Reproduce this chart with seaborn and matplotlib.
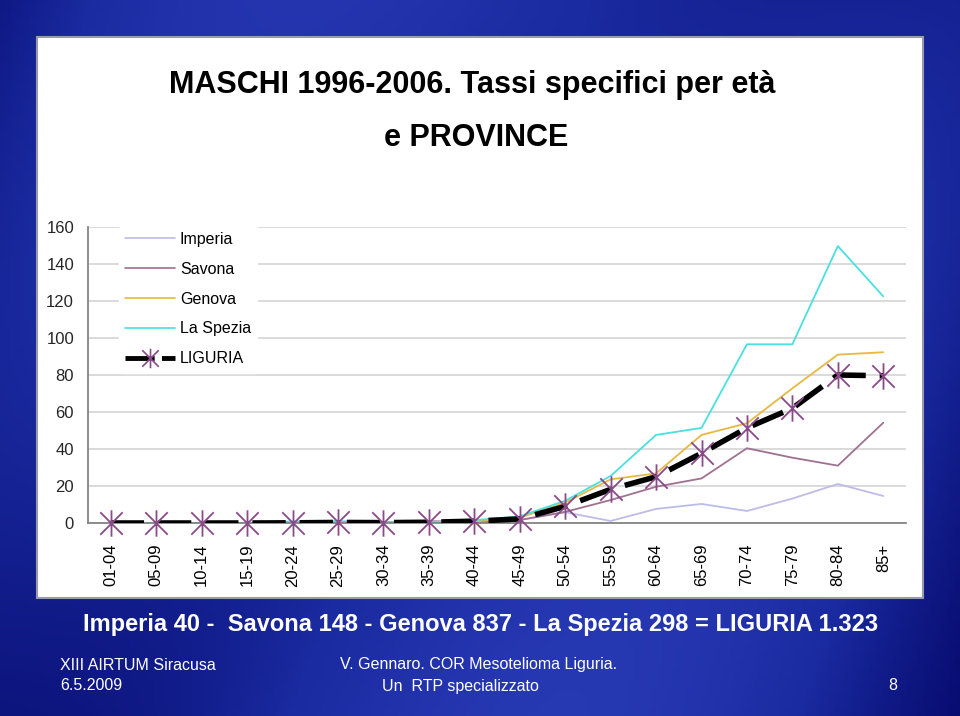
import numpy as np
import pandas as pd
import seaborn as sns
import matplotlib.pyplot as plt
from matplotlib.patches import Rectangle
from matplotlib.lines import Line2D
from matplotlib.path import Path

# classi di eta e tassi
classi = ["01-04", "05-09", "10-14", "15-19", "20-24", "25-29", "30-34", "35-39", "40-44",
          "45-49", "50-54", "55-59", "60-64", "65-69", "70-74", "75-79", "80-84", "85+"]
imperia = [0, 0, 0, 0, 0, 0.3, 0, 0.5, 0.5, 1.6, 5.8, 1.1, 7.6, 10.3, 6.5, 13.2, 21.1, 14.6]
savona = [0, 0, 0, 0, 0, 0, 0.3, 1.0, 0.5, 1.6, 6.0, 12.4, 19.6, 24.1, 40.4, 35.3, 31.0, 54.2]
genova = [0, 0, 0, 0, 0, 0.3, 0.2, 0.3, 0.8, 2.9, 11.0, 23.6, 26.8, 47.6, 53.9, 72.8, 91.0, 92.3]
la_spezia = [0, 0, 0, 0, 0.8, 1.0, 0.3, 0.3, 1.5, 3.6, 12.0, 25.4, 47.6, 51.4, 96.6, 96.6, 149.7, 122.5]
liguria = [0, 0, 0, 0, 0.1, 0.3, 0.2, 0.4, 1.0, 2.2, 9.0, 18.2, 25.0, 37.7, 51.4, 62.0, 80.0, 79.6]

province = ["Imperia", "Savona", "Genova", "La Spezia"]
colori = ["#bcbce8", "#a07090", "#e8b840", "#48e0e0"]

sns.set_theme(style="white")
plt.rcParams["font.family"] = ["Liberation Sans", "DejaVu Sans"]

# marcatore a stella di Excel: X con linea verticale
stella = Path([(0, -1), (0, 1), (-0.85, -0.85), (0.85, 0.85), (-0.85, 0.85), (0.85, -0.85)],
              [Path.MOVETO, Path.LINETO, Path.MOVETO, Path.LINETO, Path.MOVETO, Path.LINETO])

fig = plt.figure(figsize=(9.6, 7.16), dpi=100)

# sfondo blu della diapositiva
bg = fig.add_axes([0, 0, 1, 1], zorder=-10)
yy, xx = np.mgrid[0:1:200j, 0:1:200j]
grad = 0.55 + 0.28 * np.sin(np.pi * xx) + 0.12 * np.sin(7 * (xx + 0.5 * yy))
bg.imshow(grad, cmap=sns.blend_palette(["#05086a", "#1a2aa0", "#2a3cb8"], as_cmap=True),
          aspect="auto", extent=[0, 1, 0, 1], vmin=0.4, vmax=1.0)
bg.set_xlim(0, 1)
bg.set_ylim(0, 1)
bg.axis("off")
bg.add_patch(Rectangle((37 / 960, 1 - 598 / 716), 886 / 960, 561 / 716,
                       facecolor="white", edgecolor="#9a9aa8", lw=1.5))

fig.text(472 / 960, 1 - 85 / 716, "MASCHI 1996-2006. Tassi specifici per età", ha="center", va="center",
         fontsize=22, fontweight="bold", color="black")
fig.text(476 / 960, 1 - 138 / 716, "e PROVINCE", ha="center", va="center",
         fontsize=22, fontweight="bold", color="black")

ax = fig.add_axes([88 / 960, 1 - 523 / 716, 818 / 960, 296 / 716])
ax.set_facecolor("none")

df = pd.DataFrame({"classe": classi, "Imperia": imperia, "Savona": savona,
                   "Genova": genova, "La Spezia": la_spezia, "LIGURIA": liguria})
lungo = df.melt(id_vars="classe", value_vars=province, var_name="provincia", value_name="tasso")

sns.lineplot(data=lungo, x="classe", y="tasso", hue="provincia", palette=colori,
             linewidth=1.3, ax=ax, legend=False, sort=False)
sns.lineplot(data=df, x="classe", y="LIGURIA", color="black", linewidth=4,
             dashes=False, ax=ax, legend=False, sort=False, zorder=5)
ax.lines[-1].set_dashes((6, 2.5))
ax.plot(range(len(classi)), liguria, linestyle="none", marker=stella, markersize=19,
        markeredgecolor="#8a4a8a", markeredgewidth=1.3, zorder=6, clip_on=False)

ax.set_xlim(-0.5, len(classi) - 0.5)
ax.set_ylim(0, 160)
ax.set_yticks(range(0, 161, 20))
ax.yaxis.grid(True, color="#d4d4d4", lw=1.2)
ax.set_axisbelow(True)
ax.set_xlabel("")
ax.set_ylabel("")
for s in ["top", "right"]:
    ax.spines[s].set_visible(False)
ax.spines["left"].set_color("#808080")
ax.spines["bottom"].set_color("#808080")
ax.set_xticks(range(len(classi)))
ax.set_xticklabels(classi, rotation=90, fontsize=12, color="black")
ax.set_xticks(np.arange(-0.5, len(classi), 1), minor=True)
ax.tick_params(axis="x", which="major", length=0, pad=15)
ax.tick_params(axis="x", which="minor", length=5, color="#808080", direction="out")
ax.tick_params(axis="y", length=5, color="#808080", direction="out", labelsize=12, pad=5)

handles = [Line2D([], [], color=c, lw=1.2) for c in colori]
handles.append(Line2D([], [], color="black", lw=3.5, dashes=(6, 1.5), marker=stella,
                      markersize=14, markeredgecolor="#8a4a8a", markeredgewidth=1.2))
leg = ax.legend(handles, province + ["LIGURIA"], loc="upper left", bbox_to_anchor=(0.038, 1.005),
                frameon=True, facecolor="white", edgecolor="white", framealpha=1,
                handlelength=3.1, handletextpad=0.3, labelspacing=0.93, borderaxespad=0,
                prop={"size": 11.5})
for t in leg.get_texts():
    t.set_color("black")

fig.text(481 / 960, 1 - 625 / 716, "Imperia 40 -  Savona 148 - Genova 837 - La Spezia 298 = LIGURIA 1.323",
         ha="center", va="center", fontsize=17, fontweight="bold", color="white")
fig.text(60 / 960, 1 - 665 / 716, "XIII AIRTUM Siracusa", ha="left", va="center", fontsize=11.5, color="white")
fig.text(60 / 960, 1 - 686 / 716, "6.5.2009", ha="left", va="center", fontsize=11.5, color="white")
fig.text(340 / 960, 1 - 665 / 716, "V. Gennaro. COR Mesotelioma Liguria.", ha="left", va="center",
         fontsize=11.5, color="white")
fig.text(460 / 960, 1 - 686 / 716, "Un  RTP specializzato", ha="center", va="center", fontsize=11.5, color="white")
fig.text(893 / 960, 1 - 686 / 716, "8", ha="center", va="center", fontsize=11.5, color="white")

fig.savefig("out.png", dpi=100)
